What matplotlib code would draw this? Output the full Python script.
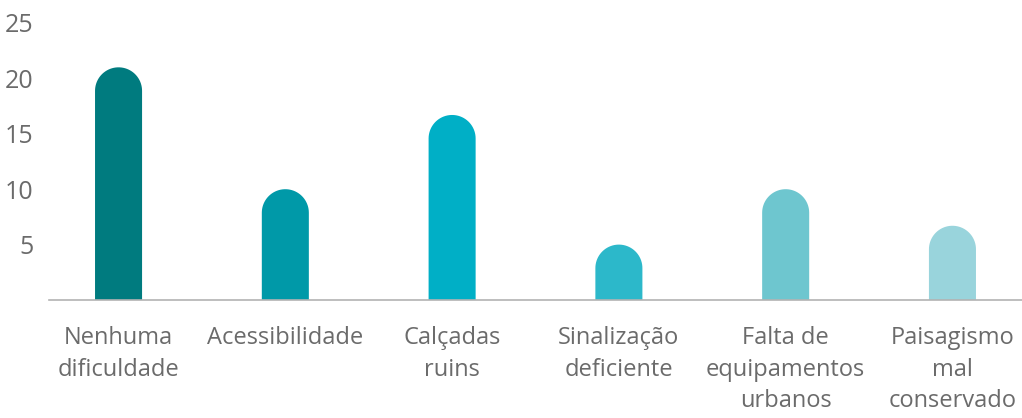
import matplotlib
matplotlib.use("Agg")
import numpy as np
import matplotlib.pyplot as plt
from matplotlib.path import Path
from matplotlib.patches import PathPatch

categories = ["Nenhuma\ndificuldade", "Acessibilidade", "Calçadas\nruins",
              "Sinalização\ndeficiente", "Falta de\nequipamentos\nurbanos",
              "Paisagismo\nmal\nconservado"]
values = [21, 10, 16.7, 5, 10, 6.7]
colors = ["#007b7f", "#0099a8", "#00afc6", "#2cb8ca", "#6ec6cf", "#99d4dc"]
yticks = [5, 10, 15, 20, 25]

plt.rcParams["font.family"] = ["Open Sans", "DejaVu Sans"]
text_color = "#6b6b6b"

W, H = 1022, 418
fig = plt.figure(figsize=(W / 100, H / 100), dpi=100)
ax = fig.add_axes([49 / W, (H - 300) / H, (W - 49) / W, 277 / H])

xmin, xmax = -0.417, 5.417
ax.set_xlim(xmin, xmax)
ax.set_ylim(0, 25)

bar_w = 0.282
# pixel scale so the round caps stay circular
px_x = ax.bbox.width / (xmax - xmin)
px_y = ax.bbox.height / 25
ry = (bar_w * px_x / 2) / px_y

t = np.linspace(np.pi, 0, 40)
for xi, (v, c) in enumerate(zip(values, colors)):
    hw = bar_w / 2
    top = v - ry
    verts = [(xi - hw, 0), (xi - hw, top)]
    verts += list(zip(xi + hw * np.cos(t), top + ry * np.sin(t)))
    verts += [(xi + hw, 0), (xi - hw, 0)]
    ax.add_patch(PathPatch(Path(verts, closed=True), facecolor=c,
                           edgecolor="none"))

ax.set_xticks(range(len(values)))
ax.set_xticklabels(categories, fontsize=17, color=text_color, linespacing=1.4)
ax.set_yticks(yticks)
ax.set_yticklabels([str(v) for v in yticks], fontsize=18, color=text_color)
ax.tick_params(axis="both", length=0)
ax.tick_params(axis="x", pad=19)
ax.tick_params(axis="y", pad=11)

for s in ["top", "right", "left"]:
    ax.spines[s].set_visible(False)
ax.spines["bottom"].set_color("#b3b3b3")
ax.spines["bottom"].set_linewidth(1.2)

fig.savefig("out.png", dpi=100)
